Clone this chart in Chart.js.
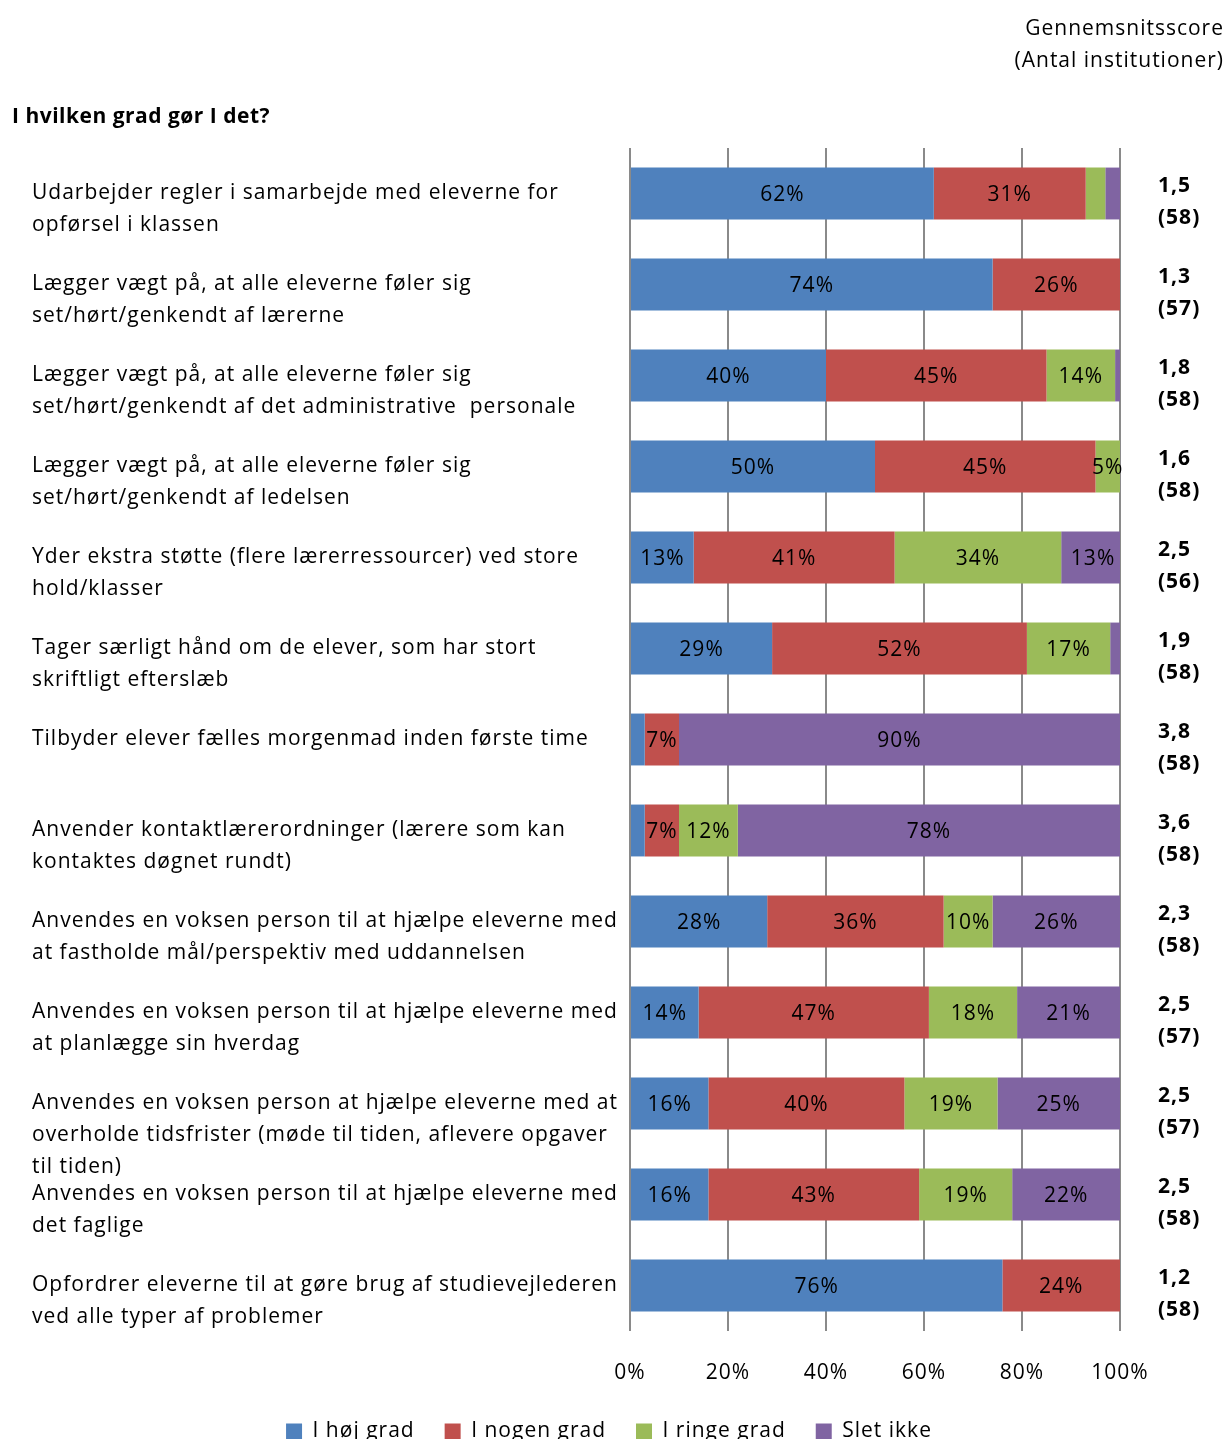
<!DOCTYPE html>
<html>
<head>
<meta charset="utf-8">
<script src="https://cdn.jsdelivr.net/npm/chart.js@4.4.1/dist/chart.umd.min.js"></script>
<style>
  html, body { margin: 0; padding: 0; background: #fff; overflow: hidden; }
  .wrap { position: relative; width: 1228px; height: 1452px; }
  .head { position: absolute; font-family: "Open Sans", sans-serif; color: #000; line-height: 32px; letter-spacing: 1px; }
  #scoreHead { right: 4px; top: 11px; font-size: 21px; text-align: right; }
  #question { left: 12px; top: 99px; font-size: 21px; font-weight: bold; letter-spacing: 0.5px; }
</style>
</head>
<body>
<div class="wrap">
  <canvas id="gradChart" width="1228" height="1452"></canvas>
  <div class="head" id="scoreHead">Gennemsnitsscore<br>(Antal institutioner)</div>
  <div class="head" id="question">I hvilken grad gør I det?</div>
</div>
<script>
const categories = [
    ['Udarbejder regler i samarbejde med eleverne for', 'opførsel i klassen'],
    ['Lægger vægt på, at alle eleverne føler sig', 'set/hørt/genkendt af lærerne'],
    ['Lægger vægt på, at alle eleverne føler sig', 'set/hørt/genkendt af det administrative  personale'],
    ['Lægger vægt på, at alle eleverne føler sig', 'set/hørt/genkendt af ledelsen'],
    ['Yder ekstra støtte (flere lærerressourcer) ved store', 'hold/klasser'],
    ['Tager særligt hånd om de elever, som har stort', 'skriftligt efterslæb'],
    ['Tilbyder elever fælles morgenmad inden første time'],
    ['Anvender kontaktlærerordninger (lærere som kan', 'kontaktes døgnet rundt)'],
    ['Anvendes en voksen person til at hjælpe eleverne med', 'at fastholde mål/perspektiv med uddannelsen'],
    ['Anvendes en voksen person til at hjælpe eleverne med', 'at planlægge sin hverdag'],
    ['Anvendes en voksen person at hjælpe eleverne med at', 'overholde tidsfrister (møde til tiden, aflevere opgaver', 'til tiden)'],
    ['Anvendes en voksen person til at hjælpe eleverne med', 'det faglige'],
    ['Opfordrer eleverne til at gøre brug af studievejlederen', 'ved alle typer af problemer']
];

const hoejGrad  = [62, 74, 40, 50, 13, 29, 3, 3, 28, 14, 16, 16, 76];
const nogenGrad = [31, 26, 45, 45, 41, 52, 7, 7, 36, 47, 40, 43, 24];
const ringeGrad = [4, 0, 14, 5, 34, 17, 0, 12, 10, 18, 19, 19, 0];
const sletIkke  = [3, 0, 1, 0, 13, 2, 90, 78, 26, 21, 25, 22, 0];

const scores = ['1,5', '1,3', '1,8', '1,6', '2,5', '1,9', '3,8', '3,6', '2,3', '2,5', '2,5', '2,5', '1,2'];
const counts = [58, 57, 58, 58, 56, 58, 58, 58, 58, 57, 57, 58, 58];

const xTicks = [0, 20, 40, 60, 80, 100];

const FONT = '"Open Sans", sans-serif';

// the original text is set a bit loose, so add some tracking on the canvas
const tracking = {
    id: 'tracking',
    beforeLayout(chart) { chart.ctx.letterSpacing = '1px'; },
    beforeDraw(chart) { chart.ctx.letterSpacing = '1px'; }
};

// legend is centred on the whole page, not on the padded area
const legendCenter = {
    id: 'legendCenter',
    afterLayout(chart) {
        const lg = chart.legend;
        if (!lg) return;
        lg.left = 10;
        lg.right = chart.width - 20;
        lg.width = lg.right - lg.left;
    }
};

// percent labels inside the segments + score column on the right
const barLabels = {
    id: 'barLabels',
    afterDatasetsDraw(chart) {
        const ctx = chart.ctx;
        ctx.save();
        ctx.font = '21px ' + FONT;
        ctx.fillStyle = '#000';
        ctx.textAlign = 'center';
        ctx.textBaseline = 'middle';
        chart.data.datasets.forEach((ds, di) => {
            chart.getDatasetMeta(di).data.forEach((bar, i) => {
                const v = ds.data[i];
                if (v < 5) return;
                ctx.fillText(v + '%', (bar.x + bar.base) / 2, bar.y + 2);
            });
        });

        const yScale = chart.scales.y;
        ctx.font = 'bold 21px ' + FONT;
        ctx.textAlign = 'left';
        scores.forEach((s, i) => {
            const y = yScale.getPixelForValue(i);
            ctx.fillText(s, chart.chartArea.right + 38, y - 7);
            ctx.fillText('(' + counts[i] + ')', chart.chartArea.right + 38, y + 25);
        });
        ctx.restore();
    }
};

const ctx = document.getElementById('gradChart').getContext('2d');
new Chart(ctx, {
    type: 'bar',
    data: {
        labels: categories,
        datasets: [{
            label: 'I høj grad',
            data: hoejGrad,
            backgroundColor: '#4F81BD'
        }, {
            label: 'I nogen grad',
            data: nogenGrad,
            backgroundColor: '#C0504D'
        }, {
            label: 'I ringe grad',
            data: ringeGrad,
            backgroundColor: '#9BBB59'
        }, {
            label: 'Slet ikke',
            data: sletIkke,
            backgroundColor: '#8064A2'
        }]
    },
    options: {
        indexAxis: 'y',
        responsive: false,
        animation: false,
        barPercentage: 0.57,
        categoryPercentage: 1,
        layout: {
            padding: { top: 148, left: 32, right: 108, bottom: 0 }
        },
        plugins: {
            tooltip: { enabled: false },
            legend: {
                position: 'bottom',
                labels: {
                    boxWidth: 16,
                    boxHeight: 16,
                    padding: 30,
                    color: '#000',
                    font: { family: FONT, size: 21 }
                }
            }
        },
        scales: {
            x: {
                stacked: true,
                min: 0,
                max: 100,
                afterBuildTicks(scale) {
                    scale.ticks = xTicks.map(v => ({ value: v }));
                },
                afterFit(scale) {
                    scale.height = 60;
                },
                grid: {
                    color: '#8a8a8a',
                    lineWidth: 2,
                    drawTicks: false
                },
                border: { display: false },
                ticks: {
                    padding: 29,
                    color: '#000',
                    font: { family: FONT, size: 21 },
                    callback: v => v + '%'
                }
            },
            y: {
                stacked: true,
                afterFit(scale) {
                    scale.width = 598;
                },
                grid: { display: false, drawTicks: false },
                border: { display: false },
                ticks: {
                    autoSkip: false,
                    crossAlign: 'far',
                    color: '#000',
                    font: { family: FONT, size: 21, lineHeight: 32 / 21 },
                    callback(value, index) {
                        const lines = categories[index];
                        const pad = new Array(lines.length - 1).fill('');
                        return pad.concat(lines);
                    }
                }
            }
        }
    },
    plugins: [tracking, legendCenter, barLabels]
});
</script>
</body>
</html>
